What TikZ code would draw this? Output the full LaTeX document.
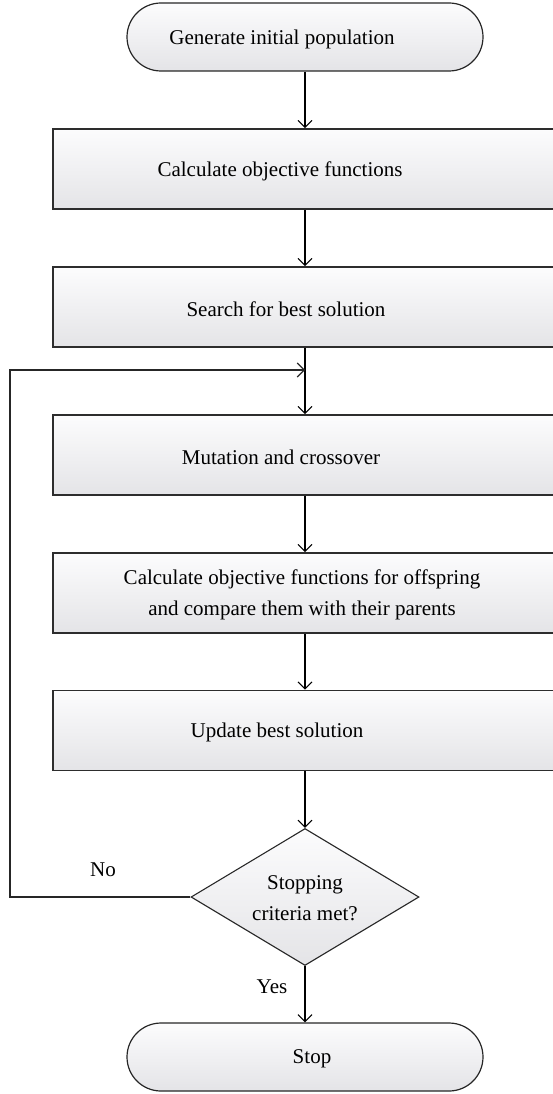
\documentclass[tikz,border=0pt]{standalone}
\usepackage{fontspec}
\setmainfont{Liberation Serif}
\usetikzlibrary{arrows.meta,shapes.geometric}
\definecolor{boxbot}{RGB}{228,228,231}
\definecolor{boxtop}{RGB}{252,252,253}
\definecolor{edgec}{RGB}{45,45,45}
\tikzset{
  txt/.style={font=\fontsize{21}{31}\selectfont, inner sep=0pt, align=center, text=black},
  procbox/.style={draw=edgec, line width=1.6pt, top color=boxtop, bottom color=boxbot, minimum width=510pt, minimum height=80pt, inner sep=0pt},
  termbox/.style={draw=black!85, line width=1.2pt, top color=boxtop, bottom color=boxbot, minimum width=356pt, minimum height=68pt, rounded corners=34pt, inner sep=0pt},
  decbox/.style={diamond, draw=black!85, line width=1.1pt, top color=boxtop, bottom color=boxbot, minimum width=228pt, minimum height=137pt, inner sep=0pt},
  flow/.style={draw=black, line width=1.6pt, -{Straight Barb[length=7pt,width=14pt,line width=1.1pt]}},
  loopline/.style={draw=black!85, line width=1.1pt, -{Straight Barb[length=7pt,width=14pt,line width=1.1pt]}},
}
\begin{document}
\begin{tikzpicture}[x=1pt,y=-1pt]
\useasboundingbox (0,0) rectangle (553,1094);
\clip (0,0) rectangle (553,1094);
% shapes
\node[termbox] (start) at (305,37) {};
\node[procbox] (b1) at (308,169) {};
\node[procbox] (b2) at (308,307) {};
\node[procbox] (b3) at (308,455) {};
\node[procbox] (b4) at (308,593) {};
\node[procbox] (b5) at (308,730.5) {};
\node[decbox] (dec) at (305,897) {};
\node[termbox] (stop) at (305,1057) {};
% texts
\node[txt] (t0) at (282,39) {Generate initial population};
\node[txt] (t1) at (280,171) {Calculate objective functions};
\node[txt] (t2) at (286,309) {Search for best solution};
\node[txt] (t3) at (281,457) {Mutation and crossover};
\node[txt] (t4) at (302,595) {Calculate objective functions for offspring\\and compare them with their parents};
\node[txt] (t5) at (277,732) {Update best solution};
\node[txt] (td) at (305,898) {Stopping\\criteria met?};
\node[txt] (ts) at (312,1059) {Stop};
\node[txt] (no) at (103,870) {No};
\node[txt] (yes) at (272,987) {Yes};
% connectors
\coordinate (merge) at (305,370);
\coordinate (lc) at (10,370);
\draw[flow] (start.south -| 305,0) -- (b1.north -| 305,0);
\draw[flow] (b1.south -| 305,0) -- (b2.north -| 305,0);
\draw[flow] (b2.south -| 305,0) -- (b3.north -| 305,0);
\draw[flow] (b3.south -| 305,0) -- (b4.north -| 305,0);
\draw[flow] (b4.south -| 305,0) -- (b5.north -| 305,0);
\draw[flow] (b5.south -| 305,0) -- (dec.north);
\draw[flow] (dec.south) -- (stop.north);
\draw[loopline] (dec.west) -| (lc) -- (merge);
\end{tikzpicture}
\end{document}
